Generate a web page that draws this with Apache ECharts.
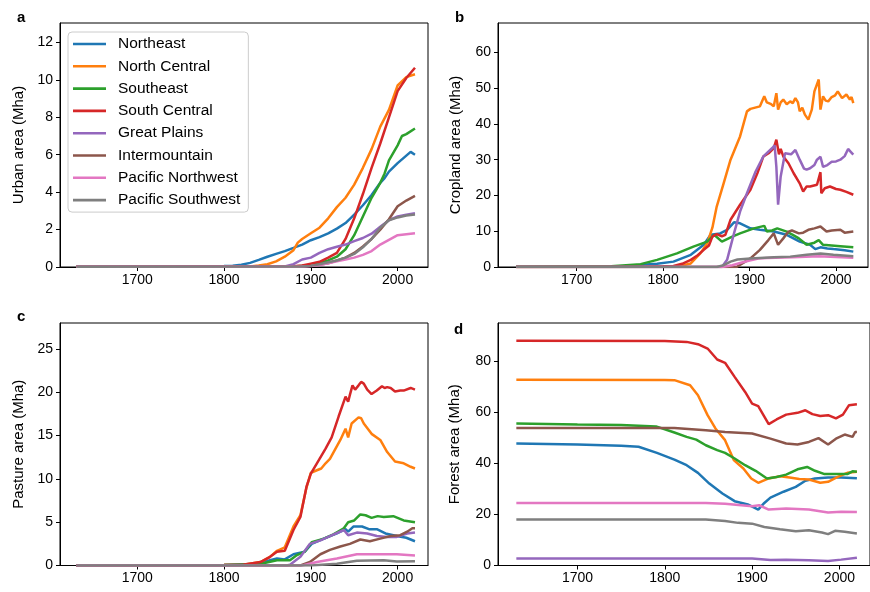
<!DOCTYPE html>
<html>
<head>
<meta charset="utf-8">
<script src="https://cdn.jsdelivr.net/npm/echarts@6/dist/echarts.min.js"></script>
<style>
html,body{margin:0;padding:0;background:#fff;}
#chart{width:870px;height:592px;}
</style>
</head>
<body>
<div id="chart"></div>
<script>
// ---------- Data ----------
const regions = ['Northeast','North Central','Southeast','South Central','Great Plains','Intermountain','Pacific Northwest','Pacific Southwest'];
const colors = ['#1f77b4','#ff7f0e','#2ca02c','#d62728','#9467bd','#8c564b','#e377c2','#7f7f7f'];

// a: Urban area (Mha)
const urbanNE = [[1630,0.02],[1780,0.03],[1800,0.05],[1810,0.07],[1820,0.12],[1830,0.22],[1840,0.38],[1850,0.55],[1860,0.7],[1870,0.85],[1880,1.02],[1890,1.2],[1900,1.43],[1910,1.6],[1920,1.8],[1930,2.05],[1940,2.35],[1950,2.8],[1960,3.3],[1970,3.85],[1980,4.5],[1985,4.75],[1990,5.1],[2000,5.55],[2010,5.95],[2015,6.15],[2020,6.0]];
const urbanNC = [[1630,0.02],[1830,0.03],[1840,0.08],[1850,0.15],[1860,0.3],[1870,0.55],[1880,0.9],[1885,1.3],[1890,1.5],[1900,1.8],[1910,2.1],[1920,2.6],[1930,3.2],[1940,3.7],[1950,4.4],[1960,5.3],[1970,6.3],[1980,7.5],[1990,8.4],[2000,9.7],[2010,10.15],[2020,10.3]];
const urbanSE = [[1630,0.02],[1880,0.03],[1900,0.1],[1910,0.2],[1920,0.35],[1930,0.55],[1940,0.95],[1950,1.7],[1960,2.7],[1970,3.7],[1980,4.5],[1985,5.0],[1990,5.7],[2000,6.5],[2005,7.0],[2010,7.1],[2020,7.4]];
const urbanSC = [[1630,0.02],[1880,0.04],[1890,0.08],[1900,0.18],[1910,0.28],[1920,0.5],[1930,0.75],[1940,1.5],[1950,2.6],[1960,3.9],[1970,5.3],[1980,6.6],[1990,8.0],[2000,9.4],[2010,10.1],[2020,10.65]];
const urbanGP = [[1630,0.02],[1870,0.03],[1880,0.15],[1890,0.4],[1900,0.5],[1910,0.75],[1920,0.95],[1930,1.08],[1940,1.2],[1950,1.38],[1960,1.55],[1970,1.78],[1980,2.15],[1990,2.5],[2000,2.7],[2010,2.8],[2020,2.88]];
const urbanIM = [[1630,0.02],[1890,0.03],[1900,0.06],[1910,0.12],[1920,0.2],[1930,0.35],[1940,0.5],[1950,0.75],[1960,1.1],[1970,1.5],[1980,2.0],[1990,2.55],[2000,3.25],[2010,3.55],[2020,3.8]];
const urbanPNW = [[1630,0.02],[1890,0.03],[1900,0.05],[1910,0.1],[1920,0.2],[1930,0.3],[1940,0.4],[1950,0.5],[1960,0.65],[1970,0.85],[1980,1.2],[1990,1.45],[2000,1.7],[2010,1.75],[2020,1.8]];
const urbanPSW = [[1630,0.02],[1890,0.03],[1900,0.06],[1910,0.15],[1920,0.25],[1930,0.35],[1940,0.5],[1950,0.7],[1960,1.05],[1970,1.5],[1980,2.1],[1990,2.5],[2000,2.65],[2010,2.75],[2020,2.8]];

// b: Cropland area (Mha)
const cropNE = [[1630,0.1],[1740,0.15],[1760,0.3],[1780,0.7],[1793,0.9],[1812,1.5],[1832,3.4],[1847,6.2],[1855,9.0],[1866,9.4],[1874,10.4],[1882,12.5],[1889,12.2],[1901,10.8],[1912,10.4],[1928,9.9],[1943,9.0],[1958,7.1],[1970,6.2],[1976,5.0],[1982,5.5],[1990,5.2],[1997,5.0],[2010,4.7],[2020,4.3]];
const cropNC = [[1630,0],[1810,0.05],[1820,0.3],[1832,1.0],[1843,3.8],[1851,6.6],[1857,11],[1862,16.9],[1870,23.4],[1878,30],[1889,36.5],[1897,43.5],[1901,44.2],[1912,44.9],[1917,47.7],[1920,46],[1925,45.5],[1928,44.9],[1931,48.6],[1933,44],[1936,46],[1939,46.8],[1943,45.5],[1947,46.3],[1950,45.8],[1953,47.2],[1956,46],[1958,43.5],[1961,44.5],[1964,42.6],[1968,41.2],[1972,44],[1975,49.1],[1980,52.4],[1982,44],[1985,47.7],[1988,46.5],[1991,46.3],[1995,47.5],[1999,48],[2002,49.1],[2007,47.2],[2012,48.2],[2016,46.8],[2018,47.5],[2020,45.8]];
const cropSE = [[1630,0.1],[1740,0.2],[1774,0.8],[1793,2.0],[1816,3.8],[1835,5.7],[1851,7.1],[1859,9],[1868,7.1],[1880,8.5],[1889,9.4],[1905,10.8],[1917,11.5],[1920,9.9],[1926,10.2],[1932,10.8],[1943,9.9],[1950,9],[1957,8],[1966,6.2],[1975,6.8],[1980,7.5],[1985,6.2],[1995,6.0],[2005,5.8],[2020,5.5]];
const cropSC = [[1630,0],[1780,0.05],[1800,0.2],[1812,0.3],[1822,0.9],[1832,2.0],[1840,3.3],[1847,4.8],[1853,6.0],[1857,8.5],[1862,9.2],[1868,8.6],[1872,9.0],[1878,13.2],[1889,17.4],[1901,21.6],[1909,26.2],[1916,30.9],[1922,31.8],[1928,33.2],[1931,35.6],[1934,31.5],[1936,33],[1939,30.9],[1945,29],[1951,26.2],[1958,23.4],[1962,21.1],[1966,22.5],[1970,22.5],[1978,23],[1982,26.5],[1983,20.6],[1987,22],[1993,22.5],[2000,21.8],[2005,21.6],[2012,21],[2020,20.2]];
const cropGP = [[1630,0],[1868,0],[1874,2],[1882,9.4],[1889,15.5],[1897,20.6],[1907,26.7],[1916,30.9],[1926,33.2],[1929,34],[1931,28],[1933,17.4],[1936,25.3],[1941,31.8],[1943,32.3],[1948,31.5],[1953,32.7],[1958,30],[1963,27.5],[1966,27.2],[1970,27.6],[1975,28.5],[1978,30],[1982,30.8],[1985,28],[1990,28.5],[1995,29.4],[2000,29.5],[2005,30],[2010,31],[2014,33],[2017,32.2],[2020,31.4]];
const cropIM = [[1630,0],[1885,0],[1895,1.5],[1901,2.4],[1912,4.8],[1922,7.6],[1928,9.4],[1933,6.2],[1939,8],[1945,9.9],[1949,10.2],[1957,9.4],[1962,9.6],[1968,10.4],[1975,10.8],[1982,11.3],[1989,9.9],[1995,10.2],[2005,10.4],[2010,9.6],[2020,9.9]];
const cropPNW = [[1630,0],[1868,0],[1880,0.5],[1890,1.2],[1900,1.8],[1910,2.4],[1920,2.5],[1950,2.7],[1980,3.0],[2000,2.8],[2020,2.6]];
const cropPSW = [[1630,0],[1862,0],[1870,0.5],[1878,1.5],[1886,2.1],[1901,2.4],[1928,2.7],[1947,2.9],[1966,3.4],[1982,3.8],[1997,3.4],[2020,3.0]];

// c: Pasture area (Mha)
const pastNE = [[1630,0],[1800,0.05],[1840,0.2],[1853,0.6],[1861,0.8],[1870,0.7],[1880,1.3],[1893,1.6],[1901,2.5],[1915,3.1],[1930,3.7],[1940,4.2],[1943,3.9],[1949,4.5],[1959,4.5],[1967,4.2],[1976,4.2],[1986,3.7],[1999,3.4],[2010,3.2],[2020,2.8]];
const pastNC = [[1630,0],[1780,0.02],[1800,0.05],[1822,0.1],[1842,0.4],[1853,1.0],[1861,1.7],[1870,2.1],[1880,4.5],[1888,5.8],[1895,9.0],[1900,10.7],[1907,11.0],[1912,11.2],[1917,11.8],[1922,12.3],[1934,14.5],[1940,15.8],[1943,14.8],[1947,16.4],[1955,17.1],[1958,17.0],[1961,16.4],[1970,15.2],[1980,14.5],[1988,13.1],[1997,12],[2007,11.8],[2015,11.4],[2020,11.2]];
const pastSE = [[1630,0],[1800,0.05],[1840,0.15],[1861,0.6],[1876,0.6],[1884,1.2],[1893,1.6],[1901,2.7],[1915,3.1],[1926,3.6],[1938,4.3],[1943,5.0],[1950,5.2],[1957,5.9],[1963,5.8],[1970,5.5],[1977,5.7],[1984,5.6],[1995,5.7],[2007,5.2],[2020,5.0]];
const pastSC = [[1630,0],[1780,0.02],[1800,0.05],[1822,0.1],[1842,0.4],[1853,1.0],[1861,1.6],[1870,1.7],[1880,4.1],[1888,5.6],[1895,9.1],[1900,10.6],[1907,11.8],[1917,13.5],[1924,14.8],[1932,17.2],[1940,19.5],[1943,18.9],[1945,19.7],[1948,20.8],[1951,20.3],[1955,20.8],[1958,21.2],[1961,21.0],[1965,20.3],[1970,19.8],[1976,20.2],[1982,20.7],[1985,20.5],[1988,20.6],[1992,20.5],[1997,20.1],[2003,20.2],[2007,20.2],[2015,20.5],[2020,20.3]];
const pastGP = [[1630,0],[1872,0],[1876,0.1],[1888,1.0],[1899,2.5],[1911,2.9],[1922,3.4],[1938,4.1],[1943,3.5],[1953,3.8],[1965,3.7],[1976,3.4],[1988,3.3],[1999,3.3],[2011,3.7],[2020,3.8]];
const pastIM = [[1630,0],[1888,0],[1899,0.4],[1911,1.3],[1922,1.8],[1934,2.2],[1945,2.5],[1957,3.0],[1968,2.8],[1980,3.1],[1992,3.4],[2003,3.5],[2011,3.9],[2017,4.3],[2020,4.3]];
const pastPNW = [[1630,0],[1890,0],[1907,0.4],[1930,0.8],[1953,1.3],[1976,1.3],[1999,1.3],[2020,1.15]];
const pastPSW = [[1630,0],[1900,0],[1930,0.2],[1953,0.55],[1984,0.6],[1999,0.45],[2020,0.5]];

// d: Forest area (Mha)
const forNE = [[1630,47.8],[1700,47.4],[1750,46.9],[1770,46.5],[1791,44.1],[1811,41.5],[1825,39.3],[1838,36.3],[1851,32.1],[1866,28.2],[1880,25.2],[1895,23.9],[1907,21.9],[1914,24.5],[1921,26.6],[1936,28.9],[1950,30.8],[1961,33.2],[1972,34.1],[1987,34.5],[2002,34.5],[2020,34.2]];
const forNC = [[1630,72.8],[1800,72.7],[1811,72.6],[1829,70.6],[1838,66.7],[1849,58.9],[1858,53.7],[1869,49.1],[1879,41.3],[1890,38],[1899,34.1],[1907,32.4],[1919,34.1],[1932,35],[1943,34.5],[1954,33.9],[1965,33.7],[1978,32.4],[1987,32.8],[1998,34.7],[2009,36.3],[2020,36.7]];
const forSE = [[1630,55.6],[1700,55.2],[1750,55],[1790,54.5],[1811,52.1],[1825,50.4],[1836,49.3],[1847,47.1],[1860,45.2],[1869,44.1],[1880,41.9],[1892,39.3],[1904,37.1],[1917,34.1],[1928,34.7],[1939,35.6],[1952,37.7],[1963,38.6],[1972,37.1],[1983,35.8],[1998,35.8],[2009,35.8],[2015,36.9],[2020,36.7]];
const forSC = [[1630,88],[1800,87.9],[1825,87.6],[1838,86.7],[1849,85],[1860,80.7],[1869,79.4],[1880,73.9],[1892,68],[1900,63.4],[1907,62.4],[1919,55.4],[1928,57.2],[1939,59.1],[1952,59.8],[1961,60.8],[1969,59.3],[1978,58.6],[1987,58.9],[1996,57.6],[2004,59.1],[2011,62.8],[2020,63.2]];
const forGP = [[1630,2.7],[1900,2.7],[1921,2.2],[1939,2.3],[1965,2.1],[1987,1.8],[2002,2.3],[2020,3.0]];
const forIM = [[1630,53.9],[1811,53.9],[1847,53],[1869,52.3],[1900,51.7],[1921,49.7],[1939,47.8],[1952,47.4],[1965,48.4],[1976,49.9],[1987,47.4],[1996,49.7],[2006,51.3],[2015,50.4],[2018,52.3],[2020,52.3]];
const forPNW = [[1630,24.5],[1847,24.5],[1869,24.2],[1900,23.2],[1908,23.6],[1919,21.9],[1939,22.3],[1965,21.9],[1987,20.8],[2002,21.1],[2020,21.0]];
const forPSW = [[1630,18],[1847,18],[1869,17.4],[1884,16.7],[1900,16.4],[1914,15.1],[1932,14.2],[1950,13.4],[1965,13.8],[1980,12.9],[1987,12.3],[1995,13.6],[2006,13.2],[2020,12.5]];

// tick labels
const xTicks = [1700,1800,1900,2000];
const yTicksA = [0,2,4,6,8,10,12];
const yTicksB = [0,10,20,30,40,50,60];
const yTicksC = [0,5,10,15,20,25];
const yTicksD = [0,20,40,60,80];
const axisNames = ['Urban area (Mha)','Cropland area (Mha)','Pasture area (Mha)','Forest area (Mha)'];
const panelLetters = ['a','b','c','d'];

const panelData = [
  [urbanNE,urbanNC,urbanSE,urbanSC,urbanGP,urbanIM,urbanPNW,urbanPSW],
  [cropNE,cropNC,cropSE,cropSC,cropGP,cropIM,cropPNW,cropPSW],
  [pastNE,pastNC,pastSE,pastSC,pastGP,pastIM,pastPNW,pastPSW],
  [forNE,forNC,forSE,forSC,forGP,forIM,forPNW,forPSW]
];

// ---------- Layout ----------
const FONT = '"Liberation Sans", Arial, Helvetica, sans-serif';
const grids = [
  {left:60, top:23, width:368, height:244},
  {left:498, top:23, width:370, height:244},
  {left:60, top:323, width:368, height:242.5},
  {left:498, top:323, width:384.7, height:242.5}
];
const xRanges = [[1611,2035],[1609,2037],[1611,2035],[1609,2035]];
const yMax = [13.04, 68.2, 28.0, 95.0];
const yTicks = [yTicksA,yTicksB,yTicksC,yTicksD];
const nameGaps = [34, 35, 34, 36];

const xAxis = grids.map((g,i)=>({
  type:'value', gridIndex:i, min:xRanges[i][0], max:xRanges[i][1],
  axisLine:{show:true, onZero:false, lineStyle:{color:'#000', width:1}},
  axisTick:{show:true, customValues:xTicks, length:4, lineStyle:{color:'#000', width:1}},
  axisLabel:{show:true, customValues:xTicks, color:'#000', fontSize:14, fontFamily:FONT, margin:6,
             formatter:(v)=>String(v)},
  splitLine:{show:false}
}));
const yAxis = grids.map((g,i)=>({
  type:'value', gridIndex:i, min:0, max:yMax[i],
  name:axisNames[i], nameLocation:'middle', nameGap:nameGaps[i],
  nameTextStyle:{color:'#000', fontSize:15, fontFamily:FONT},
  axisLine:{show:true, onZero:false, lineStyle:{color:'#000', width:1}},
  axisTick:{show:true, customValues:yTicks[i], length:4, lineStyle:{color:'#000', width:1}},
  axisLabel:{show:true, customValues:yTicks[i], color:'#000', fontSize:14, fontFamily:FONT, margin:7,
             formatter:(v)=>String(v)},
  splitLine:{show:false}
}));

const series = [];
panelData.forEach((arrs,p)=>{
  arrs.forEach((d,k)=>{
    series.push({
      type:'line', name:regions[k], xAxisIndex:p, yAxisIndex:p, data:d,
      symbol:'none', showSymbol:false, smooth:false, clip:true,
      lineStyle:{color:colors[k], width:2.5}, itemStyle:{color:colors[k]},
      emphasis:{disabled:true}, silent:true, z:2+k
    });
  });
});

const letterPos = [[17,10],[455,10],[17,309],[454,322]];
const graphic = letterPos.map((pos,i)=>({
  type:'text', left:pos[0], top:pos[1], z:100,
  style:{text:panelLetters[i], fill:'#000', font:'bold 15px '+FONT}
}));

const chart = echarts.init(document.getElementById('chart'), null, {renderer:'canvas'});
chart.setOption({
  animation:false,
  backgroundColor:'#fff',
  grid: grids.map(g=>Object.assign({show:true, borderColor:'#000', borderWidth:1, backgroundColor:'transparent', containLabel:false}, g)),
  xAxis, yAxis, series, graphic,
  legend:{
    data:regions.map((n,k)=>({name:n, icon:'rect', itemStyle:{color:colors[k]}})),
    orient:'vertical', left:68, top:32,
    itemWidth:33, itemHeight:2.6, itemGap:6.3,
    padding:[4,8,4,5],
    backgroundColor:'rgba(255,255,255,0.85)', borderColor:'#cccccc', borderWidth:1, borderRadius:4,
    textStyle:{color:'#000', fontSize:15.5, fontFamily:FONT, padding:[0,0,0,7]},
    selectedMode:false
  }
});
</script>
</body>
</html>
